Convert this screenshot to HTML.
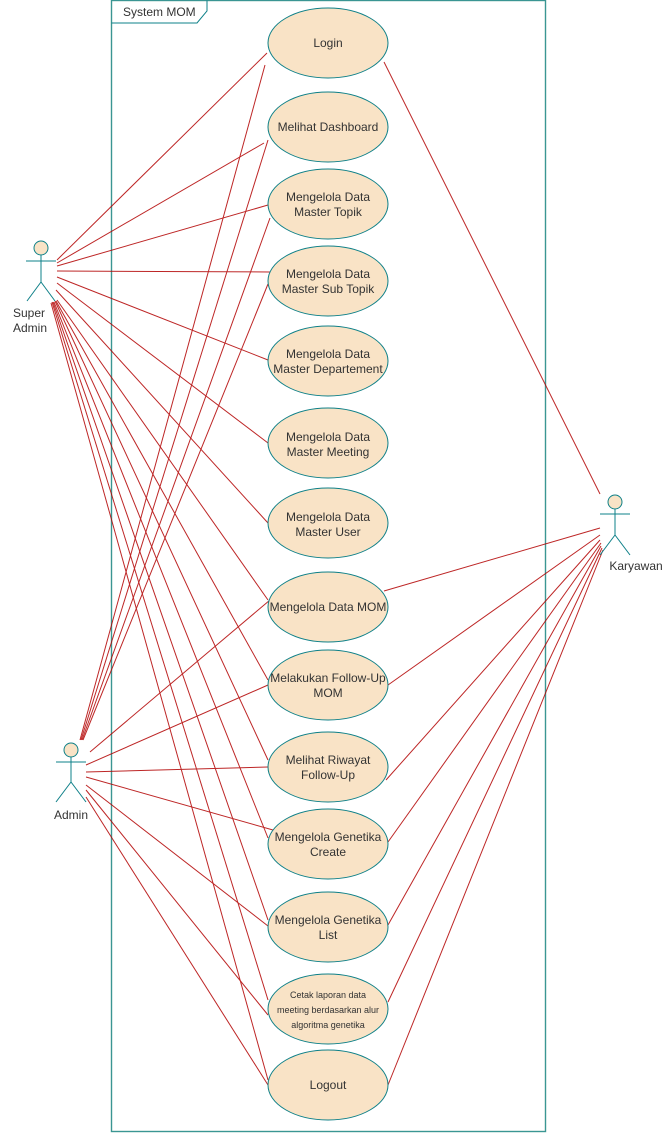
<!DOCTYPE html>
<html><head><style>
html,body{margin:0;padding:0;background:#fff;}
svg{display:block;}
text{font-family:"Liberation Sans",Arial,sans-serif;fill:#333;}
</style></head><body>
<svg width="667" height="1133" viewBox="0 0 667 1133" xmlns="http://www.w3.org/2000/svg">
<rect x="111.5" y="0.5" width="434" height="1131" fill="none" stroke="#67AB9F" stroke-width="1.5"/>
<rect x="111.5" y="0.5" width="434" height="1131" fill="none" stroke="#0e8088" stroke-width="0.5"/>
<path d="M111.5 23 L197 23 L207 11 L207 0.5" fill="none" stroke="#0e8088" stroke-width="1"/>
<text x="123" y="16" font-size="12">System MOM</text>

<g stroke="#B20000" stroke-width="1" fill="none" opacity="0.85">
<!-- Super Admin -->
<line x1="57" y1="260" x2="267" y2="53"/>
<line x1="57" y1="263" x2="264" y2="143"/>
<line x1="57" y1="266" x2="268" y2="205"/>
<line x1="57" y1="271" x2="270" y2="272"/>
<line x1="57" y1="277" x2="268" y2="360"/>
<line x1="57" y1="283" x2="268" y2="443"/>
<line x1="56" y1="290" x2="268" y2="523"/>
<line x1="57" y1="300" x2="268" y2="600"/>
<line x1="56" y1="301" x2="268" y2="680"/>
<line x1="55" y1="301" x2="268" y2="760"/>
<line x1="54" y1="302" x2="268" y2="838"/>
<line x1="53" y1="302" x2="268" y2="920"/>
<line x1="52" y1="302" x2="268" y2="1000"/>
<line x1="51" y1="303" x2="268" y2="1080"/>
<!-- Admin -->
<line x1="80" y1="740" x2="265" y2="65"/>
<line x1="81" y1="740" x2="268" y2="140"/>
<line x1="82" y1="740" x2="270" y2="218"/>
<line x1="83" y1="740" x2="268" y2="284"/>
<line x1="90" y1="752" x2="270" y2="600"/>
<line x1="86" y1="765" x2="268" y2="685"/>
<line x1="86" y1="772" x2="268" y2="767"/>
<line x1="86" y1="777" x2="273" y2="830"/>
<line x1="86" y1="785" x2="268" y2="926"/>
<line x1="86" y1="790" x2="268" y2="1015"/>
<line x1="86" y1="797" x2="268" y2="1085"/>
<!-- Karyawan -->
<line x1="384" y1="62" x2="600" y2="494"/>
<line x1="384" y1="591" x2="600" y2="528"/>
<line x1="388" y1="685" x2="600" y2="535"/>
<line x1="386" y1="780" x2="600" y2="540"/>
<line x1="388" y1="842" x2="601" y2="543"/>
<line x1="388" y1="925" x2="601" y2="546"/>
<line x1="388" y1="1002" x2="602" y2="548"/>
<line x1="388" y1="1085" x2="603" y2="550"/>
</g>

<g fill="#F9E3C6" stroke="#0e8088" stroke-width="1">
<ellipse cx="328" cy="43" rx="60" ry="35"/>
<ellipse cx="328" cy="127" rx="60" ry="35"/>
<ellipse cx="328" cy="204" rx="60" ry="35"/>
<ellipse cx="328" cy="281" rx="60" ry="35"/>
<ellipse cx="328" cy="361" rx="60" ry="35"/>
<ellipse cx="328" cy="443" rx="60" ry="35"/>
<ellipse cx="328" cy="523" rx="60" ry="35"/>
<ellipse cx="328" cy="607" rx="60" ry="35"/>
<ellipse cx="328" cy="685" rx="60" ry="35"/>
<ellipse cx="328" cy="767" rx="60" ry="35"/>
<ellipse cx="328" cy="844" rx="60" ry="35"/>
<ellipse cx="328" cy="927" rx="60" ry="35"/>
<ellipse cx="328" cy="1009" rx="60" ry="35"/>
<ellipse cx="328" cy="1085" rx="60" ry="35"/>
</g>

<g font-size="12" text-anchor="middle">
<text x="328" y="47">Login</text>
<text x="328" y="131">Melihat Dashboard</text>
<text x="328" y="201">Mengelola Data</text><text x="328" y="216">Master Topik</text>
<text x="328" y="278">Mengelola Data</text><text x="328" y="293">Master Sub Topik</text>
<text x="328" y="358">Mengelola Data</text><text x="328" y="373">Master Departement</text>
<text x="328" y="441">Mengelola Data</text><text x="328" y="456">Master Meeting</text>
<text x="328" y="521">Mengelola Data</text><text x="328" y="536">Master User</text>
<text x="328" y="611">Mengelola Data MOM</text>
<text x="328" y="682">Melakukan Follow-Up</text><text x="328" y="697">MOM</text>
<text x="328" y="764">Melihat Riwayat</text><text x="328" y="779">Follow-Up</text>
<text x="328" y="841">Mengelola Genetika</text><text x="328" y="856">Create</text>
<text x="328" y="924">Mengelola Genetika</text><text x="328" y="939">List</text>
<text x="328" y="1089">Logout</text>
<text x="328" y="40" dy="0" font-size="0"></text>
</g>
<g font-size="9" text-anchor="middle">
<text x="328" y="998">Cetak laporan data</text>
<text x="328" y="1013">meeting berdasarkan alur</text>
<text x="328" y="1028">algoritma genetika</text>
</g>

<g fill="none" stroke="#0e8088" stroke-width="1">
<!-- Super Admin -->
<circle cx="41" cy="248" r="7" fill="#F9E3C6"/>
<line x1="41" y1="255" x2="41" y2="282"/>
<line x1="26" y1="261" x2="56" y2="261"/>
<line x1="41" y1="282" x2="27" y2="301"/>
<line x1="41" y1="282" x2="55" y2="301"/>
<!-- Admin -->
<circle cx="71" cy="750" r="7" fill="#F9E3C6"/>
<line x1="71" y1="757" x2="71" y2="782"/>
<line x1="56" y1="762" x2="86" y2="762"/>
<line x1="71" y1="782" x2="56" y2="802"/>
<line x1="71" y1="782" x2="86" y2="802"/>
<!-- Karyawan -->
<circle cx="615" cy="502" r="7" fill="#F9E3C6"/>
<line x1="615" y1="509" x2="615" y2="535"/>
<line x1="600" y1="514" x2="630" y2="514"/>
<line x1="615" y1="535" x2="600" y2="555"/>
<line x1="615" y1="535" x2="630" y2="555"/>
</g>
<g font-size="12" text-anchor="middle">
<text x="29" y="317">Super</text>
<text x="30" y="332">Admin</text>
<text x="71" y="819">Admin</text>
<text x="636" y="570">Karyawan</text>
</g>
</svg>
</body></html>
